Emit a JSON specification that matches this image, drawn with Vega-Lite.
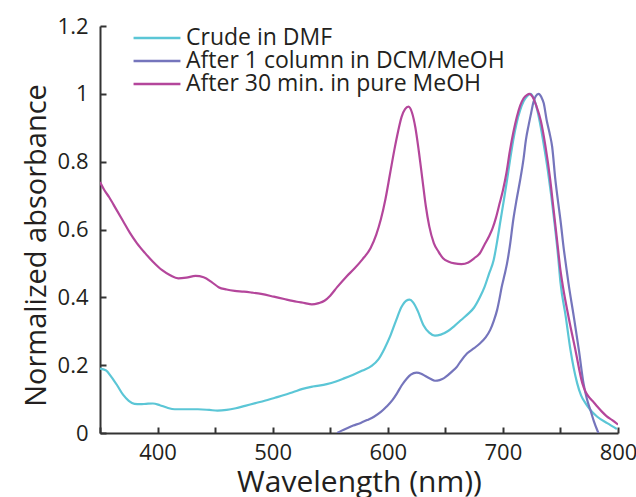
{
  "$schema": "https://vega.github.io/schema/vega-lite/v6.json",
  "width": 518,
  "height": 407,
  "autosize": {"type": "none"},
  "padding": {"left": 100, "top": 26, "right": 18, "bottom": 64},
  "background": "white",
  "config": {
    "view": {"stroke": null},
    "font": "Open Sans",
    "axis": {
      "grid": false,
      "domainColor": "#333",
      "domainWidth": 2,
      "tickColor": "#333",
      "tickWidth": 2,
      "tickSize": 6,
      "labelColor": "#231F20",
      "titleColor": "#231F20",
      "labelFont": "Open Sans",
      "titleFont": "Open Sans",
      "labelFontSize": 22,
      "titleFontSize": 29,
      "titleFontWeight": "normal"
    }
  },
  "datasets": {
    "spectra": [
      {"s": "Crude in DMF", "wl": 350, "a": 0.19},
      {"s": "Crude in DMF", "wl": 355, "a": 0.185},
      {"s": "Crude in DMF", "wl": 360, "a": 0.165},
      {"s": "Crude in DMF", "wl": 365, "a": 0.14},
      {"s": "Crude in DMF", "wl": 370, "a": 0.113},
      {"s": "Crude in DMF", "wl": 375, "a": 0.095},
      {"s": "Crude in DMF", "wl": 380, "a": 0.086},
      {"s": "Crude in DMF", "wl": 385, "a": 0.085},
      {"s": "Crude in DMF", "wl": 390, "a": 0.086},
      {"s": "Crude in DMF", "wl": 396, "a": 0.087},
      {"s": "Crude in DMF", "wl": 402, "a": 0.082},
      {"s": "Crude in DMF", "wl": 408, "a": 0.075},
      {"s": "Crude in DMF", "wl": 415, "a": 0.07},
      {"s": "Crude in DMF", "wl": 425, "a": 0.07},
      {"s": "Crude in DMF", "wl": 435, "a": 0.07},
      {"s": "Crude in DMF", "wl": 445, "a": 0.068},
      {"s": "Crude in DMF", "wl": 452, "a": 0.066},
      {"s": "Crude in DMF", "wl": 460, "a": 0.068},
      {"s": "Crude in DMF", "wl": 468, "a": 0.073},
      {"s": "Crude in DMF", "wl": 476, "a": 0.08},
      {"s": "Crude in DMF", "wl": 485, "a": 0.088},
      {"s": "Crude in DMF", "wl": 493, "a": 0.095},
      {"s": "Crude in DMF", "wl": 502, "a": 0.104},
      {"s": "Crude in DMF", "wl": 510, "a": 0.112},
      {"s": "Crude in DMF", "wl": 518, "a": 0.121},
      {"s": "Crude in DMF", "wl": 526, "a": 0.13},
      {"s": "Crude in DMF", "wl": 535, "a": 0.137},
      {"s": "Crude in DMF", "wl": 547, "a": 0.144},
      {"s": "Crude in DMF", "wl": 555, "a": 0.152},
      {"s": "Crude in DMF", "wl": 562, "a": 0.161},
      {"s": "Crude in DMF", "wl": 570, "a": 0.172},
      {"s": "Crude in DMF", "wl": 578, "a": 0.184},
      {"s": "Crude in DMF", "wl": 586, "a": 0.198},
      {"s": "Crude in DMF", "wl": 592, "a": 0.218},
      {"s": "Crude in DMF", "wl": 597, "a": 0.248},
      {"s": "Crude in DMF", "wl": 602, "a": 0.285},
      {"s": "Crude in DMF", "wl": 607, "a": 0.33},
      {"s": "Crude in DMF", "wl": 612, "a": 0.372},
      {"s": "Crude in DMF", "wl": 616, "a": 0.39},
      {"s": "Crude in DMF", "wl": 619, "a": 0.393},
      {"s": "Crude in DMF", "wl": 622, "a": 0.385},
      {"s": "Crude in DMF", "wl": 626, "a": 0.36},
      {"s": "Crude in DMF", "wl": 631, "a": 0.318},
      {"s": "Crude in DMF", "wl": 636, "a": 0.296},
      {"s": "Crude in DMF", "wl": 641, "a": 0.287},
      {"s": "Crude in DMF", "wl": 646, "a": 0.29},
      {"s": "Crude in DMF", "wl": 652, "a": 0.3},
      {"s": "Crude in DMF", "wl": 658, "a": 0.316},
      {"s": "Crude in DMF", "wl": 664, "a": 0.334},
      {"s": "Crude in DMF", "wl": 670, "a": 0.352},
      {"s": "Crude in DMF", "wl": 675, "a": 0.37},
      {"s": "Crude in DMF", "wl": 680, "a": 0.4},
      {"s": "Crude in DMF", "wl": 684, "a": 0.43},
      {"s": "Crude in DMF", "wl": 688, "a": 0.47},
      {"s": "Crude in DMF", "wl": 692, "a": 0.51},
      {"s": "Crude in DMF", "wl": 695, "a": 0.565},
      {"s": "Crude in DMF", "wl": 698, "a": 0.628},
      {"s": "Crude in DMF", "wl": 701, "a": 0.69},
      {"s": "Crude in DMF", "wl": 703.6, "a": 0.746},
      {"s": "Crude in DMF", "wl": 706, "a": 0.8},
      {"s": "Crude in DMF", "wl": 709, "a": 0.864},
      {"s": "Crude in DMF", "wl": 712, "a": 0.915},
      {"s": "Crude in DMF", "wl": 715, "a": 0.952},
      {"s": "Crude in DMF", "wl": 718, "a": 0.978},
      {"s": "Crude in DMF", "wl": 721, "a": 0.993},
      {"s": "Crude in DMF", "wl": 724, "a": 1.0},
      {"s": "Crude in DMF", "wl": 727, "a": 0.985},
      {"s": "Crude in DMF", "wl": 730, "a": 0.95},
      {"s": "Crude in DMF", "wl": 733, "a": 0.9},
      {"s": "Crude in DMF", "wl": 736, "a": 0.84},
      {"s": "Crude in DMF", "wl": 739, "a": 0.775},
      {"s": "Crude in DMF", "wl": 742, "a": 0.7},
      {"s": "Crude in DMF", "wl": 745, "a": 0.615},
      {"s": "Crude in DMF", "wl": 748, "a": 0.52},
      {"s": "Crude in DMF", "wl": 750, "a": 0.445},
      {"s": "Crude in DMF", "wl": 754.6, "a": 0.343},
      {"s": "Crude in DMF", "wl": 758.7, "a": 0.245},
      {"s": "Crude in DMF", "wl": 764.5, "a": 0.147},
      {"s": "Crude in DMF", "wl": 768, "a": 0.11},
      {"s": "Crude in DMF", "wl": 771.7, "a": 0.088},
      {"s": "Crude in DMF", "wl": 776, "a": 0.068},
      {"s": "Crude in DMF", "wl": 782, "a": 0.048},
      {"s": "Crude in DMF", "wl": 790.6, "a": 0.029},
      {"s": "Crude in DMF", "wl": 799, "a": 0.012},

      {"s": "After 1 column in DCM/MeOH", "wl": 556, "a": 0.0},
      {"s": "After 1 column in DCM/MeOH", "wl": 560, "a": 0.007},
      {"s": "After 1 column in DCM/MeOH", "wl": 564.5, "a": 0.014},
      {"s": "After 1 column in DCM/MeOH", "wl": 570, "a": 0.022},
      {"s": "After 1 column in DCM/MeOH", "wl": 576, "a": 0.029},
      {"s": "After 1 column in DCM/MeOH", "wl": 582, "a": 0.038},
      {"s": "After 1 column in DCM/MeOH", "wl": 588, "a": 0.048},
      {"s": "After 1 column in DCM/MeOH", "wl": 594, "a": 0.062},
      {"s": "After 1 column in DCM/MeOH", "wl": 599, "a": 0.078},
      {"s": "After 1 column in DCM/MeOH", "wl": 604, "a": 0.097},
      {"s": "After 1 column in DCM/MeOH", "wl": 608, "a": 0.117},
      {"s": "After 1 column in DCM/MeOH", "wl": 612, "a": 0.14},
      {"s": "After 1 column in DCM/MeOH", "wl": 616.6, "a": 0.161},
      {"s": "After 1 column in DCM/MeOH", "wl": 620, "a": 0.172},
      {"s": "After 1 column in DCM/MeOH", "wl": 625, "a": 0.178},
      {"s": "After 1 column in DCM/MeOH", "wl": 629, "a": 0.175},
      {"s": "After 1 column in DCM/MeOH", "wl": 632.6, "a": 0.168},
      {"s": "After 1 column in DCM/MeOH", "wl": 637, "a": 0.16},
      {"s": "After 1 column in DCM/MeOH", "wl": 641, "a": 0.154},
      {"s": "After 1 column in DCM/MeOH", "wl": 645, "a": 0.156},
      {"s": "After 1 column in DCM/MeOH", "wl": 648.5, "a": 0.161},
      {"s": "After 1 column in DCM/MeOH", "wl": 652, "a": 0.17},
      {"s": "After 1 column in DCM/MeOH", "wl": 655.7, "a": 0.181},
      {"s": "After 1 column in DCM/MeOH", "wl": 660, "a": 0.195},
      {"s": "After 1 column in DCM/MeOH", "wl": 663, "a": 0.21},
      {"s": "After 1 column in DCM/MeOH", "wl": 669, "a": 0.235},
      {"s": "After 1 column in DCM/MeOH", "wl": 675, "a": 0.25},
      {"s": "After 1 column in DCM/MeOH", "wl": 680, "a": 0.264},
      {"s": "After 1 column in DCM/MeOH", "wl": 685, "a": 0.282},
      {"s": "After 1 column in DCM/MeOH", "wl": 689, "a": 0.304},
      {"s": "After 1 column in DCM/MeOH", "wl": 692, "a": 0.33},
      {"s": "After 1 column in DCM/MeOH", "wl": 695, "a": 0.363},
      {"s": "After 1 column in DCM/MeOH", "wl": 697, "a": 0.395},
      {"s": "After 1 column in DCM/MeOH", "wl": 699, "a": 0.431},
      {"s": "After 1 column in DCM/MeOH", "wl": 701.5, "a": 0.467},
      {"s": "After 1 column in DCM/MeOH", "wl": 703.6, "a": 0.5},
      {"s": "After 1 column in DCM/MeOH", "wl": 706, "a": 0.55},
      {"s": "After 1 column in DCM/MeOH", "wl": 709, "a": 0.628},
      {"s": "After 1 column in DCM/MeOH", "wl": 712, "a": 0.69},
      {"s": "After 1 column in DCM/MeOH", "wl": 715, "a": 0.746},
      {"s": "After 1 column in DCM/MeOH", "wl": 718, "a": 0.81},
      {"s": "After 1 column in DCM/MeOH", "wl": 720, "a": 0.864},
      {"s": "After 1 column in DCM/MeOH", "wl": 722.5, "a": 0.91},
      {"s": "After 1 column in DCM/MeOH", "wl": 724.5, "a": 0.943},
      {"s": "After 1 column in DCM/MeOH", "wl": 726.5, "a": 0.975},
      {"s": "After 1 column in DCM/MeOH", "wl": 728.5, "a": 0.993},
      {"s": "After 1 column in DCM/MeOH", "wl": 731, "a": 1.0},
      {"s": "After 1 column in DCM/MeOH", "wl": 733.5, "a": 0.99},
      {"s": "After 1 column in DCM/MeOH", "wl": 735.5, "a": 0.972},
      {"s": "After 1 column in DCM/MeOH", "wl": 738, "a": 0.923},
      {"s": "After 1 column in DCM/MeOH", "wl": 740.5, "a": 0.885},
      {"s": "After 1 column in DCM/MeOH", "wl": 742.8, "a": 0.844},
      {"s": "After 1 column in DCM/MeOH", "wl": 745.6, "a": 0.746},
      {"s": "After 1 column in DCM/MeOH", "wl": 748, "a": 0.68},
      {"s": "After 1 column in DCM/MeOH", "wl": 750, "a": 0.628},
      {"s": "After 1 column in DCM/MeOH", "wl": 753, "a": 0.54},
      {"s": "After 1 column in DCM/MeOH", "wl": 755, "a": 0.49},
      {"s": "After 1 column in DCM/MeOH", "wl": 757, "a": 0.441},
      {"s": "After 1 column in DCM/MeOH", "wl": 761.6, "a": 0.343},
      {"s": "After 1 column in DCM/MeOH", "wl": 766, "a": 0.245},
      {"s": "After 1 column in DCM/MeOH", "wl": 770, "a": 0.147},
      {"s": "After 1 column in DCM/MeOH", "wl": 773, "a": 0.1},
      {"s": "After 1 column in DCM/MeOH", "wl": 776, "a": 0.068},
      {"s": "After 1 column in DCM/MeOH", "wl": 779, "a": 0.035},
      {"s": "After 1 column in DCM/MeOH", "wl": 782, "a": 0.008},
      {"s": "After 1 column in DCM/MeOH", "wl": 783, "a": 0.0},

      {"s": "After 30 min. in pure MeOH", "wl": 350, "a": 0.74},
      {"s": "After 30 min. in pure MeOH", "wl": 354, "a": 0.715},
      {"s": "After 30 min. in pure MeOH", "wl": 358, "a": 0.695},
      {"s": "After 30 min. in pure MeOH", "wl": 364, "a": 0.66},
      {"s": "After 30 min. in pure MeOH", "wl": 370, "a": 0.625},
      {"s": "After 30 min. in pure MeOH", "wl": 376, "a": 0.59},
      {"s": "After 30 min. in pure MeOH", "wl": 382, "a": 0.56},
      {"s": "After 30 min. in pure MeOH", "wl": 389, "a": 0.531},
      {"s": "After 30 min. in pure MeOH", "wl": 396, "a": 0.505},
      {"s": "After 30 min. in pure MeOH", "wl": 404, "a": 0.48},
      {"s": "After 30 min. in pure MeOH", "wl": 411, "a": 0.465},
      {"s": "After 30 min. in pure MeOH", "wl": 418, "a": 0.456},
      {"s": "After 30 min. in pure MeOH", "wl": 425, "a": 0.458},
      {"s": "After 30 min. in pure MeOH", "wl": 433, "a": 0.463},
      {"s": "After 30 min. in pure MeOH", "wl": 440, "a": 0.459},
      {"s": "After 30 min. in pure MeOH", "wl": 447, "a": 0.445},
      {"s": "After 30 min. in pure MeOH", "wl": 453, "a": 0.43},
      {"s": "After 30 min. in pure MeOH", "wl": 460, "a": 0.423},
      {"s": "After 30 min. in pure MeOH", "wl": 467, "a": 0.419},
      {"s": "After 30 min. in pure MeOH", "wl": 475, "a": 0.417},
      {"s": "After 30 min. in pure MeOH", "wl": 482, "a": 0.414},
      {"s": "After 30 min. in pure MeOH", "wl": 490, "a": 0.41},
      {"s": "After 30 min. in pure MeOH", "wl": 501, "a": 0.402},
      {"s": "After 30 min. in pure MeOH", "wl": 510, "a": 0.395},
      {"s": "After 30 min. in pure MeOH", "wl": 521, "a": 0.387},
      {"s": "After 30 min. in pure MeOH", "wl": 528, "a": 0.383},
      {"s": "After 30 min. in pure MeOH", "wl": 534, "a": 0.379},
      {"s": "After 30 min. in pure MeOH", "wl": 540, "a": 0.383},
      {"s": "After 30 min. in pure MeOH", "wl": 545, "a": 0.39},
      {"s": "After 30 min. in pure MeOH", "wl": 550, "a": 0.405},
      {"s": "After 30 min. in pure MeOH", "wl": 556, "a": 0.43},
      {"s": "After 30 min. in pure MeOH", "wl": 564, "a": 0.461},
      {"s": "After 30 min. in pure MeOH", "wl": 571, "a": 0.485},
      {"s": "After 30 min. in pure MeOH", "wl": 578, "a": 0.512},
      {"s": "After 30 min. in pure MeOH", "wl": 585, "a": 0.545},
      {"s": "After 30 min. in pure MeOH", "wl": 590, "a": 0.585},
      {"s": "After 30 min. in pure MeOH", "wl": 594, "a": 0.63},
      {"s": "After 30 min. in pure MeOH", "wl": 598, "a": 0.69},
      {"s": "After 30 min. in pure MeOH", "wl": 602, "a": 0.765},
      {"s": "After 30 min. in pure MeOH", "wl": 606, "a": 0.84},
      {"s": "After 30 min. in pure MeOH", "wl": 609, "a": 0.89},
      {"s": "After 30 min. in pure MeOH", "wl": 612, "a": 0.932},
      {"s": "After 30 min. in pure MeOH", "wl": 615, "a": 0.955},
      {"s": "After 30 min. in pure MeOH", "wl": 618, "a": 0.962},
      {"s": "After 30 min. in pure MeOH", "wl": 621, "a": 0.945},
      {"s": "After 30 min. in pure MeOH", "wl": 624, "a": 0.9},
      {"s": "After 30 min. in pure MeOH", "wl": 627, "a": 0.83},
      {"s": "After 30 min. in pure MeOH", "wl": 630, "a": 0.75},
      {"s": "After 30 min. in pure MeOH", "wl": 633, "a": 0.67},
      {"s": "After 30 min. in pure MeOH", "wl": 636, "a": 0.61},
      {"s": "After 30 min. in pure MeOH", "wl": 640, "a": 0.56},
      {"s": "After 30 min. in pure MeOH", "wl": 644, "a": 0.535},
      {"s": "After 30 min. in pure MeOH", "wl": 648, "a": 0.515},
      {"s": "After 30 min. in pure MeOH", "wl": 653, "a": 0.505},
      {"s": "After 30 min. in pure MeOH", "wl": 658, "a": 0.5},
      {"s": "After 30 min. in pure MeOH", "wl": 664, "a": 0.498},
      {"s": "After 30 min. in pure MeOH", "wl": 670, "a": 0.503},
      {"s": "After 30 min. in pure MeOH", "wl": 675, "a": 0.515},
      {"s": "After 30 min. in pure MeOH", "wl": 680, "a": 0.53},
      {"s": "After 30 min. in pure MeOH", "wl": 684, "a": 0.555},
      {"s": "After 30 min. in pure MeOH", "wl": 688, "a": 0.58},
      {"s": "After 30 min. in pure MeOH", "wl": 691, "a": 0.603},
      {"s": "After 30 min. in pure MeOH", "wl": 694, "a": 0.635},
      {"s": "After 30 min. in pure MeOH", "wl": 697, "a": 0.675},
      {"s": "After 30 min. in pure MeOH", "wl": 700, "a": 0.715},
      {"s": "After 30 min. in pure MeOH", "wl": 703, "a": 0.765},
      {"s": "After 30 min. in pure MeOH", "wl": 706, "a": 0.83},
      {"s": "After 30 min. in pure MeOH", "wl": 709, "a": 0.885},
      {"s": "After 30 min. in pure MeOH", "wl": 712, "a": 0.93},
      {"s": "After 30 min. in pure MeOH", "wl": 715, "a": 0.965},
      {"s": "After 30 min. in pure MeOH", "wl": 718, "a": 0.987},
      {"s": "After 30 min. in pure MeOH", "wl": 721, "a": 0.997},
      {"s": "After 30 min. in pure MeOH", "wl": 723, "a": 1.0},
      {"s": "After 30 min. in pure MeOH", "wl": 726, "a": 0.99},
      {"s": "After 30 min. in pure MeOH", "wl": 729, "a": 0.965},
      {"s": "After 30 min. in pure MeOH", "wl": 733, "a": 0.92},
      {"s": "After 30 min. in pure MeOH", "wl": 737, "a": 0.845},
      {"s": "After 30 min. in pure MeOH", "wl": 741, "a": 0.75},
      {"s": "After 30 min. in pure MeOH", "wl": 744, "a": 0.66},
      {"s": "After 30 min. in pure MeOH", "wl": 747, "a": 0.57},
      {"s": "After 30 min. in pure MeOH", "wl": 750, "a": 0.48},
      {"s": "After 30 min. in pure MeOH", "wl": 752, "a": 0.435},
      {"s": "After 30 min. in pure MeOH", "wl": 757, "a": 0.343},
      {"s": "After 30 min. in pure MeOH", "wl": 763, "a": 0.245},
      {"s": "After 30 min. in pure MeOH", "wl": 769, "a": 0.147},
      {"s": "After 30 min. in pure MeOH", "wl": 772, "a": 0.12},
      {"s": "After 30 min. in pure MeOH", "wl": 775, "a": 0.105},
      {"s": "After 30 min. in pure MeOH", "wl": 779, "a": 0.09},
      {"s": "After 30 min. in pure MeOH", "wl": 782, "a": 0.078},
      {"s": "After 30 min. in pure MeOH", "wl": 786, "a": 0.063},
      {"s": "After 30 min. in pure MeOH", "wl": 790, "a": 0.05},
      {"s": "After 30 min. in pure MeOH", "wl": 795, "a": 0.038},
      {"s": "After 30 min. in pure MeOH", "wl": 800, "a": 0.025}
    ]
  },
  "data": {"name": "spectra"},
  "resolve": {"axis": {"x": "independent", "y": "independent"}},
  "layer": [
    {
      "mark": {"type": "line", "strokeWidth": 2.2, "interpolate": "monotone", "clip": true},
      "encoding": {
        "x": {
          "field": "wl",
          "type": "quantitative",
          "scale": {"domain": [350, 800], "nice": false, "zero": false},
          "axis": {
            "orient": "bottom",
            "title": "Wavelength (nm))",
            "titleFontSize": 30,
            "titleY": 58,
            "titleBaseline": "alphabetic",
            "values": [400, 500, 600, 700, 800],
            "ticks": false,
            "labelPadding": 9,
            "labelFlush": false,
            "labelOverlap": false
          }
        },
        "y": {
          "field": "a",
          "type": "quantitative",
          "scale": {"domain": [0, 1.2], "nice": false},
          "axis": {
            "orient": "left",
            "title": "Normalized absorbance",
            "titleX": -55,
            "titleY": 219,
            "titleBaseline": "alphabetic",
            "values": [0, 0.2, 0.4, 0.6, 0.8, 1, 1.2],
            "format": "~g",
            "ticks": false,
            "labelPadding": 12,
            "labelOverlap": false,
            "labelFlush": false
          }
        },
        "color": {
          "field": "s",
          "type": "nominal",
          "sort": ["Crude in DMF", "After 1 column in DCM/MeOH", "After 30 min. in pure MeOH"],
          "scale": {
            "domain": ["Crude in DMF", "After 1 column in DCM/MeOH", "After 30 min. in pure MeOH"],
            "range": ["#5BC6D6", "#7575BC", "#B4469B"]
          },
          "legend": {
            "title": null,
            "orient": "none",
            "legendX": 32,
            "legendY": 2,
            "padding": 0,
            "symbolType": "stroke",
            "symbolSize": 2200,
            "symbolStrokeWidth": 2.5,
            "clipHeight": 20,
            "labelFont": "Open Sans",
            "labelFontSize": 23,
            "labelColor": "#231F20",
            "labelOffset": 4,
            "labelLimit": 500,
            "rowPadding": 0
          }
        }
      }
    },
    {
      "mark": {"type": "line", "opacity": 0, "strokeOpacity": 0},
      "encoding": {
        "detail": {"field": "s"},
        "x": {
          "field": "wl",
          "type": "quantitative",
          "axis": {
            "orient": "top",
            "offset": -407,
            "title": null,
            "labels": false,
            "domain": false,
            "values": [350, 400, 450, 500, 550, 600, 650, 700, 750, 800]
          }
        },
        "y": {
          "field": "a",
          "type": "quantitative",
          "axis": {
            "orient": "right",
            "offset": -518,
            "title": null,
            "labels": false,
            "domain": false,
            "values": [0, 0.2, 0.4, 0.6, 0.8, 1, 1.2]
          }
        }
      }
    }
  ]
}
